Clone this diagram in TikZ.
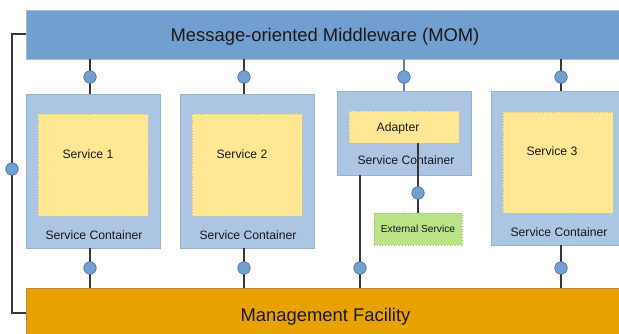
\documentclass[tikz,border=0pt]{standalone}
\usepackage{fontspec}
\setmainfont{Liberation Sans}
\definecolor{momfill}{RGB}{114,159,207}
\definecolor{momdraw}{RGB}{165,188,215}
\definecolor{contfill}{RGB}{171,197,226}
\definecolor{contdraw}{RGB}{150,178,210}
\definecolor{yelfill}{RGB}{255,231,148}
\definecolor{yeldraw}{RGB}{200,192,150}
\definecolor{grnfill}{RGB}{185,227,134}
\definecolor{grndraw}{RGB}{160,175,150}
\definecolor{mgmtfill}{RGB}{232,162,0}
\definecolor{mgmtdraw}{RGB}{185,140,55}
\definecolor{dotfill}{RGB}{114,159,207}
\definecolor{dotdraw}{RGB}{60,105,165}
\definecolor{wire}{RGB}{55,55,55}
\definecolor{bluewire}{RGB}{85,130,190}
\definecolor{txt}{RGB}{25,25,25}
\begin{document}
\begin{tikzpicture}[x=1pt,y=-1pt,
  box/.style={anchor=north west,inner sep=0pt,outer sep=0pt,line width=0.8pt},
  bar/.style={box,fill=momfill,draw=momdraw},
  mgmtbar/.style={box,fill=mgmtfill,draw=mgmtdraw},
  container/.style={box,fill=contfill,draw=contdraw},
  service/.style={box,fill=yelfill,draw=yeldraw,dotted},
  extsvc/.style={box,fill=grnfill,draw=grndraw,dotted},
  bigtxt/.style={anchor=base,inner sep=0pt,text=txt,font=\fontsize{18.4}{20}\selectfont},
  midtxt/.style={anchor=base,inner sep=0pt,text=txt,font=\fontsize{12.2}{14}\selectfont},
  smalltxt/.style={anchor=base,inner sep=0pt,text=txt,font=\fontsize{10.2}{12}\selectfont},
  wireline/.style={draw=wire,line width=1.3pt},
  dot/.style={circle,fill=dotfill,draw=dotdraw,line width=0.6pt,minimum size=12.5pt,inner sep=0pt}
]
\useasboundingbox (0,0) rectangle (619,334);

% bars
\node[bar,minimum width=610pt,minimum height=49pt] (mom) at (26,10) {};
\node[bigtxt] (momtxt) at (325,41.5) {Message-oriented Middleware (MOM)};
\node[mgmtbar,minimum width=610pt,minimum height=60pt] (mgmt) at (26,288) {};
\node[bigtxt] (mgmttxt) at (325.5,321.5) {Management Facility};

% containers
\node[container,minimum width=134pt,minimum height=154pt] (c1) at (26,94) {};
\node[service,minimum width=110pt,minimum height=102pt] (s1) at (38,114) {};
\node[midtxt] (s1t) at (88,158.5) {Service 1};
\node[midtxt] (c1t) at (94,239.5) {Service Container};

\node[container,minimum width=134pt,minimum height=154pt] (c2) at (180,94) {};
\node[service,minimum width=110pt,minimum height=102pt] (s2) at (192,114) {};
\node[midtxt] (s2t) at (242,158.5) {Service 2};
\node[midtxt] (c2t) at (248,239.5) {Service Container};

\node[container,minimum width=134pt,minimum height=84pt] (c3) at (337,91) {};
\node[service,minimum width=110pt,minimum height=32pt] (ad) at (349,111) {};
\node[midtxt] (adt) at (398,131.5) {Adapter};
\node[midtxt] (c3t) at (406,164.5) {Service Container};

\node[container,minimum width=140pt,minimum height=154pt] (c4) at (491,91) {};
\node[service,minimum width=110pt,minimum height=101pt] (s3) at (503,112) {};
\node[midtxt] (s3t) at (552,155.5) {Service 3};
\node[midtxt] (c4t) at (559,236.5) {Service Container};

\node[extsvc,minimum width=88pt,minimum height=32pt] (ext) at (374,213) {};
\node[smalltxt] (extt) at (418,232.7) {External Service};

% connector x positions
\coordinate (x1) at (90,0);
\coordinate (x2) at (244,0);
\coordinate (x3) at (404,0);
\coordinate (x4) at (561,0);
\coordinate (x3b) at (360,0);
\coordinate (xa) at (418,0);
\coordinate (lx) at (12,0);
\coordinate (ly1) at (0,34);
\coordinate (ly2) at (0,313);

% left line
\draw[wireline] (mom.west |- ly1) -- (lx |- ly1) -- (lx |- ly2) -- (mgmt.west |- ly2);
\node[dot] (dl) at (12,169) {};

% top connectors
\draw[wireline] (mom.south -| x1) -- (c1.north -| x1);
\node[dot] (d1t) at (90,77) {};
\draw[wireline] (mom.south -| x2) -- (c2.north -| x2);
\node[dot] (d2t) at (244,77) {};
\draw[draw=bluewire,line width=1.3pt] (mom.south -| x3) -- (c3.north -| x3);
\node[dot] (d3t) at (404,77) {};
\draw[wireline] (mom.south -| x4) -- (c4.north -| x4);
\node[dot] (d4t) at (561,77) {};

% bottom connectors
\draw[wireline] (c1.south -| x1) -- (mgmt.north -| x1);
\node[dot] (d1b) at (90,268) {};
\draw[wireline] (c2.south -| x2) -- (mgmt.north -| x2);
\node[dot] (d2b) at (244,268) {};
\draw[wireline] (c3.south -| x3b) -- (mgmt.north -| x3b);
\node[dot] (d3b) at (360,268) {};
\draw[wireline] (c4.south -| x4) -- (mgmt.north -| x4);
\node[dot] (d4b) at (561,268) {};

% adapter to external service
\draw[wireline] (ad.south -| xa) -- (ext.north -| xa);
\node[dot] (da) at (418,193) {};
\end{tikzpicture}
\end{document}
